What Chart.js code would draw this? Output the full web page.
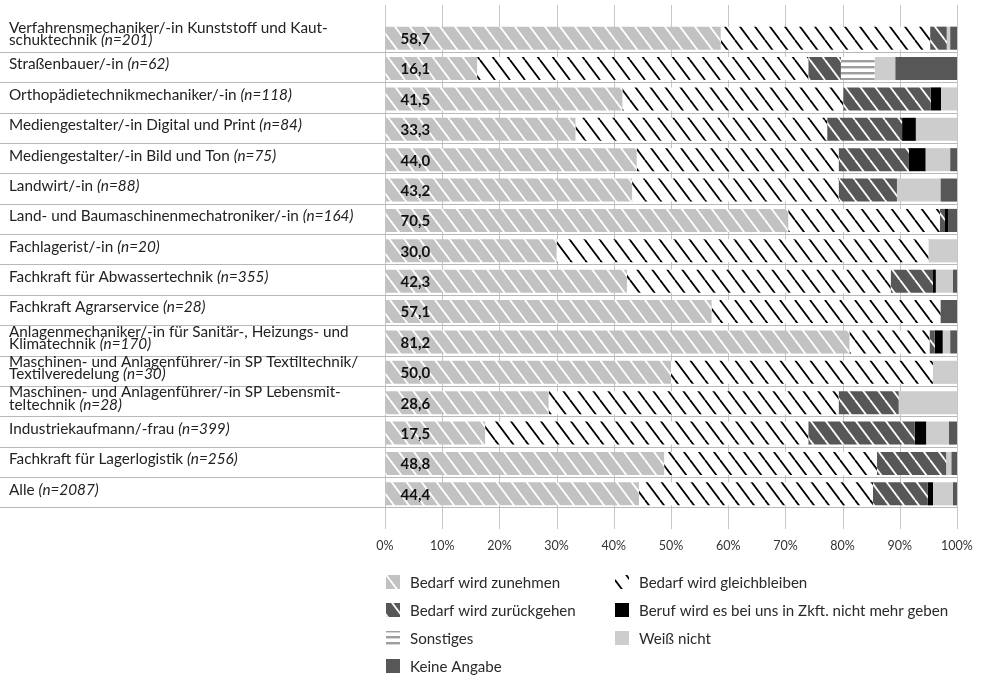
<!DOCTYPE html>
<html lang="de">
<head>
<meta charset="utf-8">
<title>Bedarf nach Ausbildungsberufen</title>
<script src="https://cdn.jsdelivr.net/npm/chart.js@4.4.1/dist/chart.umd.min.js"></script>
<style>
  html, body { margin: 0; padding: 0; background: #fff; }
  #wrap { width: 982px; height: 676px; }
</style>
</head>
<body>
<div id="wrap"><canvas id="chart" width="982" height="676"></canvas></div>
<script>
// Berufe (Zeilenumbrueche wie im Layout), Fallzahlen dahinter kursiv
var berufe = [
    ['Verfahrensmechaniker/-in Kunststoff und Kaut-', 'schuktechnik'],
    ['Straßenbauer/-in'],
    ['Orthopädietechnikmechaniker/-in'],
    ['Mediengestalter/-in Digital und Print'],
    ['Mediengestalter/-in Bild und Ton'],
    ['Landwirt/-in'],
    ['Land- und Baumaschinenmechatroniker/-in'],
    ['Fachlagerist/-in'],
    ['Fachkraft für Abwassertechnik'],
    ['Fachkraft Agrarservice'],
    ['Anlagenmechaniker/-in für Sanitär-, Heizungs- und', 'Klimatechnik'],
    ['Maschinen- und Anlagenführer/-in SP Textiltechnik/', 'Textilveredelung'],
    ['Maschinen- und Anlagenführer/-in SP Lebensmit-', 'teltechnik'],
    ['Industriekaufmann/-frau'],
    ['Fachkraft für Lagerlogistik'],
    ['Alle']
]
var fallzahlen = [201, 62, 118, 84, 75, 88, 164, 20, 355, 28, 170, 30, 28, 399, 256, 2087]

// Anteile in Prozent
var zunehmen      = [58.7, 16.1, 41.5, 33.3, 44.0, 43.2, 70.5, 30.0, 42.3, 57.1, 81.2, 50.0, 28.6, 17.5, 48.8, 44.4]
var gleich        = [36.6, 57.9, 38.6, 44.0, 35.3, 36.1, 26.5, 65.0, 46.1, 40.0, 14.0, 45.8, 50.7, 56.5, 37.2, 40.9]
var zurueck       = [2.9, 5.7, 15.3, 13.1, 12.3, 10.2, 0.9, 0, 7.4, 0, 0.9, 0, 10.5, 18.6, 12.1, 9.6]
var keinBeruf     = [0, 0, 1.8, 2.4, 2.9, 0, 0.6, 0, 0.5, 0, 1.4, 0, 0, 2.0, 0, 0.9]
var sonstiges     = [0, 5.9, 0, 0, 0, 0, 0, 0, 0, 0, 0, 0, 0, 0, 0, 0]
var weissNicht    = [0.6, 3.6, 2.8, 7.2, 4.3, 7.6, 0, 5.0, 3.0, 0, 1.3, 4.2, 10.2, 4.0, 0.9, 3.5]
var keineAngabe   = [1.2, 10.8, 0, 0, 1.2, 2.9, 1.5, 0, 0.7, 2.9, 1.2, 0, 0, 1.4, 1.0, 0.7]

var prozentTicks = [0, 10, 20, 30, 40, 50, 60, 70, 80, 90, 100]

Chart.defaults.font.family = 'Lato'
Chart.defaults.color = '#333'

var canvas = document.getElementById('chart')
var ctxMain = canvas.getContext('2d')

//schraege Streifen "\" auf Grundfarbe
function streifen(grund, linie, breite) {
    var c = document.createElement('canvas')
    c.width = 15
    c.height = 20
    var x = c.getContext('2d')
    x.fillStyle = grund
    x.fillRect(0, 0, 15, 20)
    x.strokeStyle = linie
    x.lineWidth = breite
    for (var k = -1; k <= 1; k++) {
        x.beginPath()
        x.moveTo(k * 15, 0)
        x.lineTo(k * 15 + 15, 20)
        x.stroke()
    }
    return ctxMain.createPattern(c, 'repeat')
}

//waagerechte Streifen fuer Sonstiges
function querstreifen() {
    var c = document.createElement('canvas')
    c.width = 6
    c.height = 6
    var x = c.getContext('2d')
    x.fillStyle = '#ffffff'
    x.fillRect(0, 0, 6, 6)
    x.fillStyle = '#9e9e9e'
    x.fillRect(0, 0, 6, 2)
    x.fillStyle = '#d6d6d6'
    x.fillRect(0, 2, 6, 1)
    return ctxMain.createPattern(c, 'repeat')
}

var datasets = [
    { label: 'Bedarf wird zunehmen', data: zunehmen, backgroundColor: streifen('#c2c2c2', '#ffffff', 1.8) },
    { label: 'Bedarf wird gleichbleiben', data: gleich, backgroundColor: streifen('#ffffff', '#000000', 1.8) },
    { label: 'Bedarf wird zurückgehen', data: zurueck, backgroundColor: streifen('#575757', '#ffffff', 1.8) },
    { label: 'Beruf wird es bei uns in Zkft. nicht mehr geben', data: keinBeruf, backgroundColor: '#000000' },
    { label: 'Sonstiges', data: sonstiges, backgroundColor: querstreifen() },
    { label: 'Weiß nicht', data: weissNicht, backgroundColor: '#cdcdcd' },
    { label: 'Keine Angabe', data: keineAngabe, backgroundColor: '#575757' }
]

//Gitterlinien: senkrecht ueber die ganze Hoehe, waagerecht bis zum linken Rand
var gitter = {
    id: 'gitter',
    beforeDatasetsDraw: function(chart) {
        var ctx = chart.ctx
        var sx = chart.scales.x
        var sy = chart.scales.y
        var a = chart.chartArea
        var schritt = sy.getPixelForValue(1) - sy.getPixelForValue(0)
        ctx.save()
        ctx.lineWidth = 1
        ctx.strokeStyle = '#c6c6c6'
        for (let t of prozentTicks) {
            var px = Math.round(sx.getPixelForValue(t)) + 0.5
            ctx.beginPath()
            ctx.moveTo(px, a.top - 18)
            ctx.lineTo(px, a.bottom + 20)
            ctx.stroke()
        }
        ctx.strokeStyle = '#b8b8b8'
        for (var i = 0; i < berufe.length; i++) {
            var py = Math.round(sy.getPixelForValue(i) + schritt * 0.45) + 0.5
            ctx.beginPath()
            ctx.moveTo(0, py)
            ctx.lineTo(a.right, py)
            ctx.stroke()
        }
        ctx.restore()
    }
}

//Berufsnamen links, Fallzahl kursiv
var beschriftung = {
    id: 'beschriftung',
    afterDatasetsDraw: function(chart) {
        var ctx = chart.ctx
        var sy = chart.scales.y
        ctx.save()
        ctx.fillStyle = '#222'
        ctx.textBaseline = 'middle'
        ctx.textAlign = 'left'
        berufe.forEach(function(zeilen, i) {
            var mitte = sy.getPixelForValue(i) - 4
            var zh = 12.5
            var start = mitte - (zeilen.length - 1) * zh / 2
            zeilen.forEach(function(z, j) {
                var py = start + j * zh
                ctx.font = '15.3px Lato'
                ctx.fillText(z, 9, py)
                if (j === zeilen.length - 1) {
                    var w = ctx.measureText(z + ' ').width
                    ctx.font = 'italic 15.3px Lato'
                    ctx.fillText('(n=' + fallzahlen[i] + ')', 9 + w, py)
                }
            })
        })

        //Werte im ersten Segment
        var meta = chart.getDatasetMeta(0)
        ctx.font = 'bold 15px Lato'
        ctx.fillStyle = '#111'
        meta.data.forEach(function(bar, i) {
            ctx.fillText(zunehmen[i].toFixed(1).replace('.', ','), bar.base + 15, bar.y + 1)
        })
        ctx.restore()
    }
}

//Legende in zwei Spalten
var legende = {
    id: 'legende',
    afterDraw: function(chart) {
        var ctx = chart.ctx
        var a = chart.chartArea
        var spalten = [386, 615]
        ctx.save()
        ctx.textBaseline = 'middle'
        ctx.font = '15.1px Lato'
        chart.data.datasets.forEach(function(ds, i) {
            var lx = spalten[i % 2]
            var ly = Math.round(a.bottom + 73 + Math.floor(i / 2) * 28)
            ctx.fillStyle = ds.backgroundColor
            ctx.fillRect(lx, ly - 7, 14, 14)
            ctx.fillStyle = '#2a2a2a'
            ctx.fillText(ds.label, lx + 24, ly + 1)
        })
        ctx.restore()
    }
}

var chart = new Chart(canvas, {
    type: 'bar',
    data: { labels: berufe.map(function(b) { return b.join(' ') }), datasets: datasets },
    options: {
        indexAxis: 'y',
        responsive: false,
        animation: false,
        devicePixelRatio: 1,
        layout: { padding: { left: 385, right: 25, top: 23, bottom: 120 } },
        datasets: { bar: { categoryPercentage: 1, barPercentage: 0.76, borderWidth: 0 } },
        scales: {
            x: {
                stacked: true,
                min: 0,
                max: 100,
                afterBuildTicks: function(axis) {
                    axis.ticks = prozentTicks.map(function(v) { return { value: v } })
                },
                grid: { display: true, drawOnChartArea: false, drawTicks: true, tickLength: 26, color: 'rgba(0,0,0,0)' },
                border: { display: false },
                ticks: {
                    padding: 3,
                    font: { size: 12.5 },
                    color: '#333',
                    callback: function(v) { return v + '%' }
                }
            },
            y: {
                stacked: true,
                display: false
            }
        },
        plugins: {
            legend: { display: false },
            tooltip: { enabled: false }
        }
    },
    plugins: [gitter, beschriftung, legende]
})
</script>
</body>
</html>
